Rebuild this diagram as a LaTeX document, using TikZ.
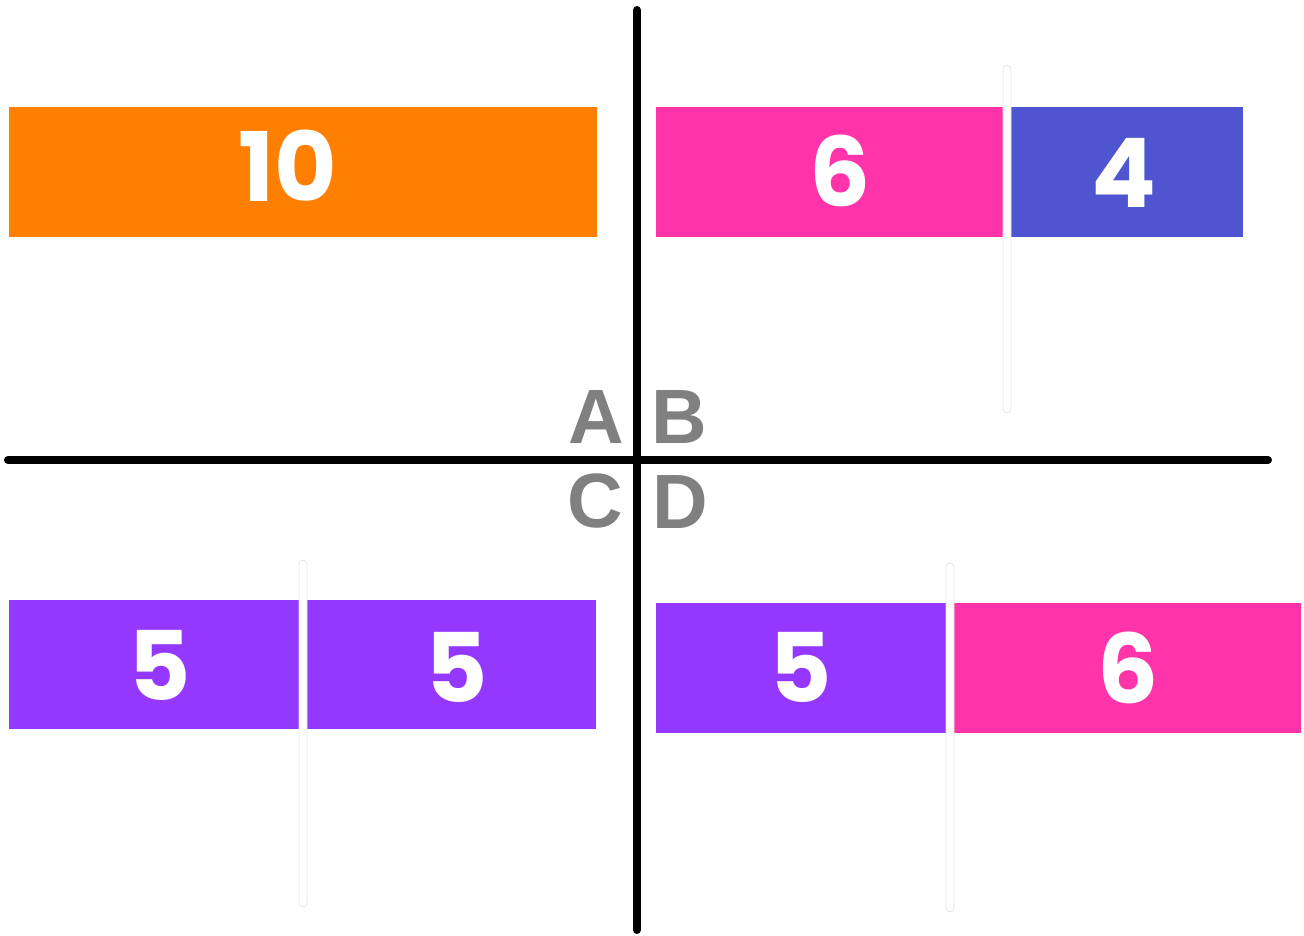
\documentclass[tikz,border=0pt]{standalone}
\usepackage{fontspec}
\newfontfamily\numfont{Poppins}[UprightFont=* Bold]
\newfontfamily\labfont{Liberation Sans}[UprightFont=* Bold]
\definecolor{corange}{HTML}{FF7F00}
\definecolor{cpink}{HTML}{FF33AA}
\definecolor{cblue}{HTML}{4F55D0}
\definecolor{cpurple}{HTML}{9437FF}
\definecolor{cgray}{HTML}{808080}
\tikzset{
  bar/.style={draw=none},
  num/.style={text=white, inner sep=0pt, font=\numfont\fontsize{96}{96}\selectfont},
  lab/.style={text=cgray, inner sep=0pt, font=\labfont\fontsize{77}{77}\selectfont},
  sep/.style={fill=white, draw=black!10, line width=0.8pt, rounded corners=4pt},
  axis/.style={line width=8pt, line cap=round}
}
\begin{document}
\begin{tikzpicture}[x=1pt,y=-1pt]
\useasboundingbox (0,0) rectangle (1304,935);
% bars
\fill[corange] (9,107) rectangle (597,237);
\fill[cpink] (656,107) rectangle (1004,237);
\fill[cblue] (1011,107) rectangle (1243,237);
\fill[cpurple] (9,600) rectangle (299,729);
\fill[cpurple] (307,600) rectangle (596,729);
\fill[cpurple] (656,603) rectangle (946,733);
\fill[cpink] (954,603) rectangle (1301,733);
% separators
\draw[sep] (1003,65) rectangle (1011,413);
\draw[sep] (299,560) rectangle (307,907);
\draw[sep] (946,563) rectangle (954,912);
% numbers
\node[num] (n10) at (288,166) {10};
\node[num] (n6a) at (840,171) {6};
\node[num] (n4) at (1124,173) {4};
\node[num] (n5a) at (160,665) {5};
\node[num] (n5b) at (457,667) {5};
\node[num] (n5c) at (801,667) {5};
\node[num] (n6b) at (1128,668) {6};
% axes
\coordinate (top) at (637,10);
\coordinate (bot) at (637,930);
\coordinate (lft) at (8,460);
\coordinate (rgt) at (1268,460);
\draw[axis] (top) -- (bot);
\draw[axis] (lft) -- (rgt);
% labels
\node[lab] (A) at (596,417) {A};
\node[lab] (B) at (679,417) {B};
\node[lab] (C) at (595,501) {C};
\node[lab] (D) at (680,502) {D};
\end{tikzpicture}
\end{document}
